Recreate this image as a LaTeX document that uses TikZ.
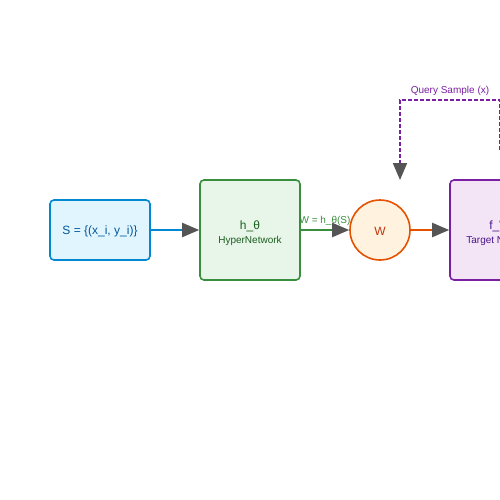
\documentclass[tikz,border=0pt]{standalone}
\usepackage{fontspec}
\setmainfont{Liberation Sans}
\usetikzlibrary{arrows.meta,backgrounds,positioning}
\definecolor{sline}{HTML}{0288D1}
\definecolor{sfill}{HTML}{E1F5FE}
\definecolor{stext}{HTML}{01579B}
\definecolor{hline}{HTML}{388E3C}
\definecolor{hfill}{HTML}{E8F5E9}
\definecolor{htext}{HTML}{1B5E20}
\definecolor{wline}{HTML}{E65100}
\definecolor{wfill}{HTML}{FFF3E0}
\definecolor{wtext}{HTML}{BF360C}
\definecolor{fline}{HTML}{7B1FA2}
\definecolor{ffill}{HTML}{F3E5F5}
\definecolor{ftext}{HTML}{4A148C}
\definecolor{tipgray}{HTML}{555555}
\tikzset{
  blockbox/.style={rectangle,rounded corners=4pt,line width=1.6pt,align=center,font=\fontsize{12}{15}\selectfont},
  maintext/.style={font=\fontsize{12}{15}\selectfont,inner sep=0pt},
  subtext/.style={font=\fontsize{10}{12}\selectfont},
  flow/.style={line width=2pt,-{Triangle[length=17pt,width=14pt,color=tipgray]}},
}

\begin{document}
\begin{tikzpicture}[x=1pt,y=-1pt]
\useasboundingbox (0,0) rectangle (500,500);

\node[blockbox,draw=sline,fill=sfill,text=stext,minimum width=100pt,minimum height=60pt] (S) at (100,230) {};
\node[maintext,text=stext] (Stxt) at (100,231) {S = \{(x\_i, y\_i)\}};
\node[blockbox,draw=hline,fill=hfill,minimum width=100pt,minimum height=100pt] (H) at (250,230) {};
\node[maintext,text=htext] (Htxt) at (250,226) {h\_θ};
\node[subtext,inner sep=0pt,text=htext] (Hsub) at (250,241) {HyperNetwork};
\node[circle,line width=1.6pt,draw=wline,fill=wfill,minimum size=60pt] (W) at (380,230) {};
\node[maintext,text=wtext] (Wtxt) at (380,231) {W};
\node[blockbox,draw=fline,fill=ffill,minimum width=100pt,minimum height=100pt] (F) at (500,230) {};
\node[maintext,text=ftext] (Ftxt) at (500,226) {f\_W};
\node[subtext,inner sep=0pt,text=ftext] (Fsub) at (500,241) {Target Network};

\coordinate (qs) at (500,150);
\coordinate (qe) at (400,180);

\begin{scope}[on background layer]
\draw[flow,color=sline] (S) -- (H);
\draw[flow,color=hline] (H) -- node[above=3pt,subtext,inner sep=0pt,text=hline] {W = h\_θ(S)} (W);
\draw[flow,color=wline] (W) -- (F);
\end{scope}
\draw[flow,color=fline,dash pattern=on 4pt off 2pt] (qs) -- ++(0,-50) -| node[pos=0.25,above,subtext,text=fline] {Query Sample (x)} (qe);
\end{tikzpicture}
\end{document}
